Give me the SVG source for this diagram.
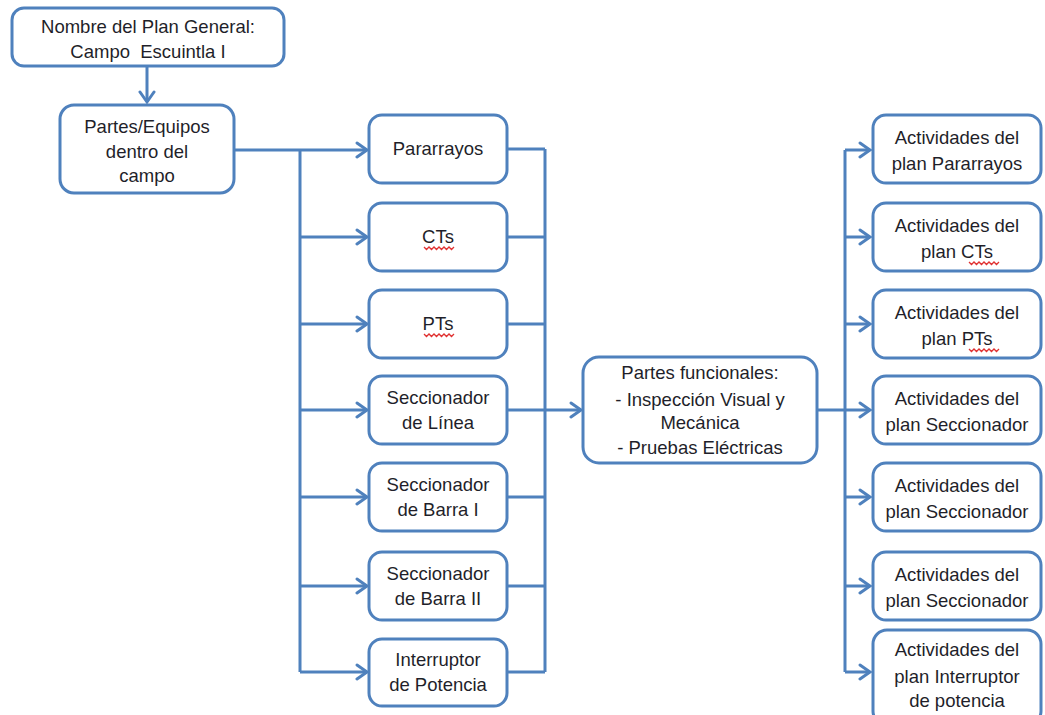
<svg xmlns="http://www.w3.org/2000/svg" width="1045" height="715" viewBox="0 0 1045 715">
  <style>
    .box { fill: #ffffff; stroke: #4F81BD; stroke-width: 3; }
    .wire { fill: none; stroke: #4F81BD; stroke-width: 3; }
    .lbl { font-family: "Liberation Sans", Arial, sans-serif; font-size: 18.5px; fill: #1f1f2a; text-anchor: middle; }
    .squig { fill: none; stroke: #e03030; stroke-width: 1.3; }
  </style>
  <defs>
    <marker id="chev" markerUnits="userSpaceOnUse" markerWidth="16" markerHeight="18" viewBox="-12 -9 14 18" refX="0" refY="0" orient="auto">
      <path d="M-10,-7 L0,0 L-10,7" fill="none" stroke="#4F81BD" stroke-width="3" stroke-linecap="round" stroke-linejoin="miter"/>
    </marker>
  </defs>
  <rect width="1045" height="715" fill="#ffffff"/>

  <!-- connectors -->
  <g id="connectors">
    <path class="wire" d="M147,66 V102" marker-end="url(#chev)"/>
    <path class="wire" d="M234,150 H367" marker-end="url(#chev)"/>
    <path class="wire" d="M300,150 V672"/>
    <path class="wire" d="M300,237 H367" marker-end="url(#chev)"/>
    <path class="wire" d="M300,324 H367" marker-end="url(#chev)"/>
    <path class="wire" d="M300,410 H367" marker-end="url(#chev)"/>
    <path class="wire" d="M300,497 H367" marker-end="url(#chev)"/>
    <path class="wire" d="M300,586 H367" marker-end="url(#chev)"/>
    <path class="wire" d="M300,672 H367" marker-end="url(#chev)"/>

    <path class="wire" d="M507,149 H545 M507,237 H545 M507,324 H545 M507,497 H545 M507,586 H545 M507,672 H545"/>
    <path class="wire" d="M545,149 V672"/>
    <path class="wire" d="M507,410 H581" marker-end="url(#chev)"/>

    <path class="wire" d="M817,410 H870" marker-end="url(#chev)"/>
    <path class="wire" d="M845,150 V672"/>
    <path class="wire" d="M845,150 H870" marker-end="url(#chev)"/>
    <path class="wire" d="M845,237 H870" marker-end="url(#chev)"/>
    <path class="wire" d="M845,324 H870" marker-end="url(#chev)"/>
    <path class="wire" d="M845,497 H870" marker-end="url(#chev)"/>
    <path class="wire" d="M845,586 H870" marker-end="url(#chev)"/>
    <path class="wire" d="M845,672 H870" marker-end="url(#chev)"/>
  </g>

  <!-- left column -->
  <g id="plan-general">
    <rect class="box" x="12" y="8" width="272" height="58" rx="12"/>
    <text class="lbl" x="148" y="33">Nombre del Plan General:</text>
    <text class="lbl" x="148" y="58" xml:space="preserve">Campo  Escuintla I</text>
  </g>
  <g id="partes-equipos">
    <rect class="box" x="60" y="105" width="174" height="88" rx="14"/>
    <text class="lbl" x="147" y="133">Partes/Equipos</text>
    <text class="lbl" x="147" y="158">dentro del</text>
    <text class="lbl" x="147" y="182">campo</text>
  </g>

  <!-- equipment column -->
  <g id="pararrayos">
    <rect class="box" x="369" y="115" width="138" height="68" rx="13"/>
    <text class="lbl" x="438" y="155">Pararrayos</text>
  </g>
  <g id="cts">
    <rect class="box" x="369" y="203" width="138" height="68" rx="13"/>
    <text class="lbl" x="438" y="243">CTs</text>
    <path class="squig" d="M424,247 l2.5,2.5 l2.5,-2.5 l2.5,2.5 l2.5,-2.5 l2.5,2.5 l2.5,-2.5 l2.5,2.5 l2.5,-2.5 l2.5,2.5 l2.5,-2.5 l2.5,2.5 l2.5,-2.5"/>
  </g>
  <g id="pts">
    <rect class="box" x="369" y="290" width="138" height="68" rx="13"/>
    <text class="lbl" x="438" y="330">PTs</text>
    <path class="squig" d="M424,334 l2.5,2.5 l2.5,-2.5 l2.5,2.5 l2.5,-2.5 l2.5,2.5 l2.5,-2.5 l2.5,2.5 l2.5,-2.5 l2.5,2.5 l2.5,-2.5 l2.5,2.5 l2.5,-2.5"/>
  </g>
  <g id="seccionador-linea">
    <rect class="box" x="369" y="376" width="138" height="68" rx="13"/>
    <text class="lbl" x="438" y="404">Seccionador</text>
    <text class="lbl" x="438" y="429">de Línea</text>
  </g>
  <g id="seccionador-barra-1">
    <rect class="box" x="369" y="463" width="138" height="68" rx="13"/>
    <text class="lbl" x="438" y="491">Seccionador</text>
    <text class="lbl" x="438" y="516">de Barra I</text>
  </g>
  <g id="seccionador-barra-2">
    <rect class="box" x="369" y="552" width="138" height="68" rx="13"/>
    <text class="lbl" x="438" y="580">Seccionador</text>
    <text class="lbl" x="438" y="605">de Barra II</text>
  </g>
  <g id="interruptor">
    <rect class="box" x="369" y="639" width="138" height="67" rx="13"/>
    <text class="lbl" x="438" y="666">Interruptor</text>
    <text class="lbl" x="438" y="691">de Potencia</text>
  </g>

  <!-- functional parts -->
  <g id="partes-funcionales">
    <rect class="box" x="583" y="357" width="234" height="106" rx="16"/>
    <text class="lbl" x="700" y="379">Partes funcionales:</text>
    <text class="lbl" x="700" y="406">- Inspección Visual y</text>
    <text class="lbl" x="700" y="429">Mecánica</text>
    <text class="lbl" x="700" y="454">- Pruebas Eléctricas</text>
  </g>

  <!-- activity column -->
  <g id="act-pararrayos">
    <rect class="box" x="873" y="115" width="168" height="68" rx="13"/>
    <text class="lbl" x="957" y="144">Actividades del</text>
    <text class="lbl" x="957" y="170">plan Pararrayos</text>
  </g>
  <g id="act-cts">
    <rect class="box" x="873" y="203" width="168" height="68" rx="13"/>
    <text class="lbl" x="957" y="232">Actividades del</text>
    <text class="lbl" x="957" y="258">plan CTs</text>
    <path class="squig" d="M969,262 l2.5,2.5 l2.5,-2.5 l2.5,2.5 l2.5,-2.5 l2.5,2.5 l2.5,-2.5 l2.5,2.5 l2.5,-2.5 l2.5,2.5 l2.5,-2.5 l2.5,2.5 l2.5,-2.5"/>
  </g>
  <g id="act-pts">
    <rect class="box" x="873" y="290" width="168" height="68" rx="13"/>
    <text class="lbl" x="957" y="319">Actividades del</text>
    <text class="lbl" x="957" y="345">plan PTs</text>
    <path class="squig" d="M969,349 l2.5,2.5 l2.5,-2.5 l2.5,2.5 l2.5,-2.5 l2.5,2.5 l2.5,-2.5 l2.5,2.5 l2.5,-2.5 l2.5,2.5 l2.5,-2.5 l2.5,2.5 l2.5,-2.5"/>
  </g>
  <g id="act-seccionador-1">
    <rect class="box" x="873" y="376" width="168" height="68" rx="13"/>
    <text class="lbl" x="957" y="405">Actividades del</text>
    <text class="lbl" x="957" y="431">plan Seccionador</text>
  </g>
  <g id="act-seccionador-2">
    <rect class="box" x="873" y="463" width="168" height="68" rx="13"/>
    <text class="lbl" x="957" y="492">Actividades del</text>
    <text class="lbl" x="957" y="518">plan Seccionador</text>
  </g>
  <g id="act-seccionador-3">
    <rect class="box" x="873" y="552" width="168" height="68" rx="13"/>
    <text class="lbl" x="957" y="581">Actividades del</text>
    <text class="lbl" x="957" y="607">plan Seccionador</text>
  </g>
  <g id="act-interruptor">
    <rect class="box" x="873" y="630" width="168" height="95" rx="14"/>
    <text class="lbl" x="957" y="656">Actividades del</text>
    <text class="lbl" x="957" y="683">plan Interruptor</text>
    <text class="lbl" x="957" y="707">de potencia</text>
  </g>
</svg>
